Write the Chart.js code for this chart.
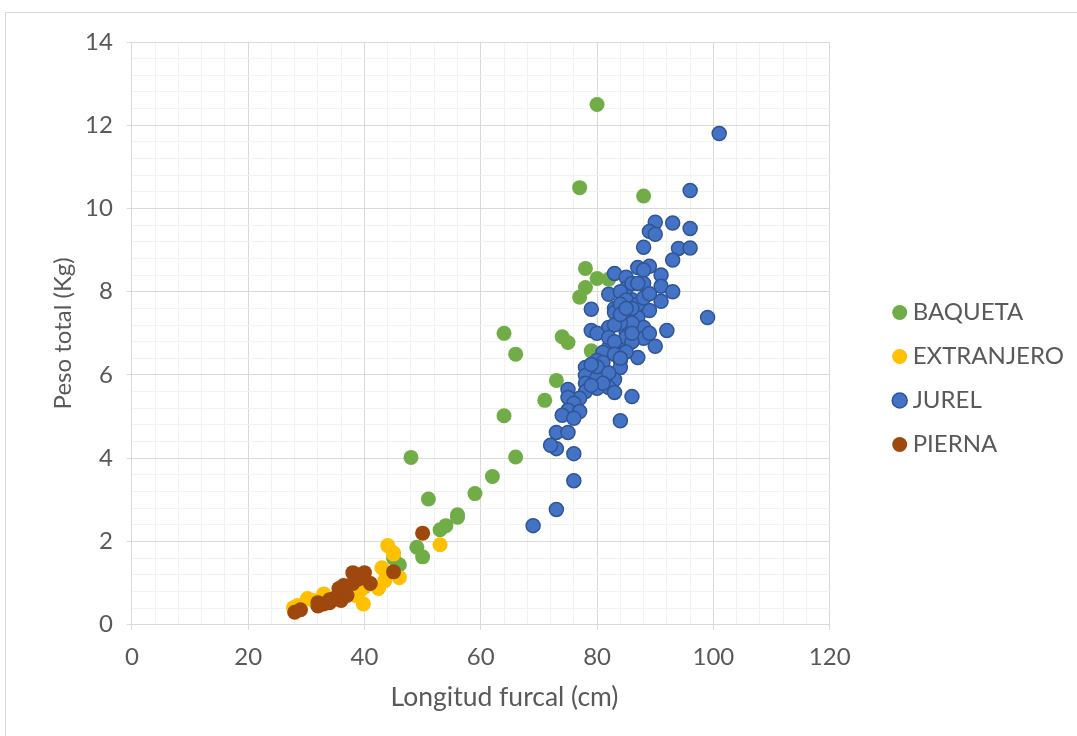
<!DOCTYPE html>
<html lang="es">
<head>
<meta charset="utf-8">
<title>Peso total vs Longitud furcal</title>
<script src="https://cdn.jsdelivr.net/npm/chart.js@4.4.1/dist/chart.umd.min.js"></script>
<style>
    html, body { margin: 0; padding: 0; background: #fff; overflow: hidden; }
    #wrap { position: relative; width: 1077px; height: 736px; }
    #frame {
        position: absolute; left: 5px; top: 12px; width: 1200px; height: 900px;
        border-top: 1px solid #d9d9d9; border-left: 1px solid #d9d9d9;
    }
    #chart-canvas { position: absolute; left: 0; top: 0; }
</style>
</head>
<body>
<div id="wrap">
    <div id="frame"></div>
    <canvas id="chart-canvas" width="1077" height="736"></canvas>
</div>
<script>
// Series names (legend order)
const seriesNames = ['BAQUETA', 'EXTRANJERO', 'JUREL', 'PIERNA'];

// BAQUETA: longitud furcal (cm) / peso total (kg)
const baquetaX = [80, 77, 88, 78, 78, 80, 82, 77, 64, 74, 75, 66, 79, 73, 71, 64, 66, 48, 62, 59, 56, 56, 54, 53, 51, 49, 50, 45, 46];
const baquetaY = [12.5, 10.5, 10.3, 8.56, 8.1, 8.32, 8.3, 7.87, 7.0, 6.92, 6.78, 6.5, 6.58, 5.87, 5.39, 5.02, 4.03, 4.02, 3.56, 3.15, 2.64, 2.58, 2.38, 2.28, 3.02, 1.86, 1.63, 1.6, 1.44];

// EXTRANJERO
const extranjeroX = [53, 44, 45, 43, 46, 43.5, 42.4, 41, 39.8, 39.3, 38.5, 33, 31.2, 30.2, 28.5, 27.8, 35, 37, 36, 32, 45, 40];
const extranjeroY = [1.92, 1.9, 1.73, 1.37, 1.13, 1.06, 0.87, 0.99, 0.5, 0.82, 0.7, 0.74, 0.58, 0.63, 0.46, 0.41, 0.6, 0.75, 0.65, 0.5, 1.7, 0.9];

// JUREL
const jurelX = [101, 96, 90, 93, 96, 89, 90, 88, 94, 96, 93, 83, 87, 89, 88, 85, 91, 91, 93, 82,
    86, 91, 89, 79, 83, 83, 85, 99, 87, 92, 79, 85, 88, 82, 88, 90, 85, 82, 81, 84,
    84, 87, 80, 85, 86, 84, 81, 78, 79, 78, 80, 78, 83, 82, 83, 80, 78, 77, 75, 75,
    76, 75, 77, 74, 76, 73, 75, 73, 72, 76, 76, 73, 69, 85, 86, 84, 85, 87, 88, 84,
    86, 86, 84, 83, 80, 82, 83, 86, 83, 81, 80, 79, 85, 84, 86, 88, 89, 87, 85, 89,
    84, 82, 81, 79];
const jurelY = [11.8, 10.43, 9.67, 9.65, 9.52, 9.45, 9.38, 9.07, 9.04, 9.05, 8.76, 8.44, 8.58, 8.61, 8.52, 8.35, 8.4, 8.13, 8.0, 7.94,
    7.81, 7.77, 7.55, 7.58, 7.6, 7.5, 7.39, 7.38, 7.38, 7.07, 7.07, 7.02, 7.14, 7.14, 6.88, 6.69, 6.66, 6.66, 6.54, 6.35,
    6.18, 6.42, 6.35, 6.9, 5.48, 4.9, 6.18, 6.18, 6.04, 5.99, 5.94, 5.8, 5.89, 5.7, 5.58, 5.68, 5.6, 5.44, 5.65, 5.46,
    5.32, 5.15, 5.12, 5.03, 4.96, 4.62, 4.62, 4.23, 4.31, 4.11, 3.46, 2.77, 2.38, 8.08, 8.2, 8.0, 7.8, 7.7, 7.85, 7.7,
    7.6, 7.25, 7.25, 7.2, 7.0, 6.9, 6.8, 6.8, 6.5, 6.3, 6.2, 6.25, 6.55, 7.45, 7.0, 8.2, 7.95, 8.2, 7.6, 7.0,
    6.4, 6.05, 5.8, 5.75];

// PIERNA
const piernaX = [50, 45, 28, 29, 32, 33, 34, 35, 35.6, 36.4, 36, 38, 38, 40, 41, 39, 32, 37, 34];
const piernaY = [2.2, 1.27, 0.3, 0.36, 0.53, 0.5, 0.53, 0.65, 0.87, 0.94, 0.58, 1.25, 0.99, 1.25, 0.99, 1.1, 0.45, 0.7, 0.6];

// Axis ranges and label steps (major) / grid steps (minor)
const xMin = 0, xMax = 120, xMajor = 20, xMinor = 4;
const yMin = 0, yMax = 14, yMajor = 2, yMinor = 0.4;

// Builds {x, y} points for a scatter dataset
function toPoints(xs, ys) {
    return xs.map((x, i) => ({ x: x, y: ys[i] }));
}

function isMajor(value, step) {
    const r = value / step;
    return Math.abs(r - Math.round(r)) < 1e-6;
}

Chart.defaults.font.family = 'Lato, "Open Sans", sans-serif';
Chart.defaults.font.size = 24;
Chart.defaults.color = '#595959';

// Moves the legend to the right, clear of the plot area
const legendShift = {
    id: 'legendShift',
    afterLayout(chart) {
        chart.legend.left += 49;
        chart.legend.right += 49;
    }
};

function axisOptions(min, max, major, minor, tickPadding, titleText, titleSize, titlePadding) {
    return {
        type: 'linear',
        min: min,
        max: max,
        ticks: {
            stepSize: minor,
            autoSkip: false,
            maxRotation: 0,
            padding: tickPadding,
            color: '#595959',
            font: { size: 24 },
            callback: (v) => isMajor(v, major) ? Math.round(v) : ''
        },
        grid: {
            color: (ctx) => isMajor(ctx.tick.value, major) ? '#d9d9d9' : '#f2f2f2',
            tickColor: (ctx) => isMajor(ctx.tick.value, major) ? '#d9d9d9' : 'rgba(0,0,0,0)',
            tickLength: 5,
            lineWidth: 1
        },
        border: { color: '#d9d9d9', width: 1 },
        title: {
            display: true,
            text: titleText,
            color: '#595959',
            font: { size: titleSize, lineHeight: 1 },
            padding: titlePadding
        }
    };
}

function renderChart() {
    const ctx = document.getElementById('chart-canvas');

    const datasets = [
        {
            label: seriesNames[0],
            data: toPoints(baquetaX, baquetaY),
            backgroundColor: '#70ad47',
            borderWidth: 0,
            pointRadius: 7.5,
            order: 4
        },
        {
            label: seriesNames[1],
            data: toPoints(extranjeroX, extranjeroY),
            backgroundColor: '#ffc000',
            borderWidth: 0,
            pointRadius: 7.5,
            order: 3
        },
        {
            label: seriesNames[2],
            data: toPoints(jurelX, jurelY),
            backgroundColor: '#4472c4',
            borderColor: '#2f5597',
            borderWidth: 1.5,
            pointRadius: 7,
            order: 2
        },
        {
            label: seriesNames[3],
            data: toPoints(piernaX, piernaY),
            backgroundColor: '#9e480e',
            borderWidth: 0,
            pointRadius: 7.5,
            order: 1
        }
    ];

    new Chart(ctx, {
        type: 'scatter',
        data: { datasets: datasets },
        options: {
            responsive: false,
            animation: false,
            layout: { padding: { left: 51, top: 42, right: 52, bottom: 21 } },
            plugins: {
                tooltip: { enabled: false },
                legend: {
                    display: true,
                    position: 'right',
                    labels: {
                        usePointStyle: true,
                        pointStyle: 'circle',
                        boxWidth: 2,
                        boxHeight: 10.6,
                        padding: 20,
                        color: '#595959',
                        font: { size: 24 },
                        sort: (a, b) => a.datasetIndex - b.datasetIndex
                    }
                }
            },
            scales: {
                // leading spaces push the title a little right of centre, as in the original
                x: axisOptions(xMin, xMax, xMajor, xMinor, 13, '       Longitud furcal (cm)', 26.5, { top: 0, bottom: 4 }),
                y: axisOptions(yMin, yMax, yMajor, yMinor, 14, 'Peso total (Kg)', 24, { top: 0, bottom: -4 })
            }
        },
        plugins: [legendShift]
    });
}

document.fonts.load('24px Lato').then(renderChart, renderChart);
</script>
</body>
</html>
